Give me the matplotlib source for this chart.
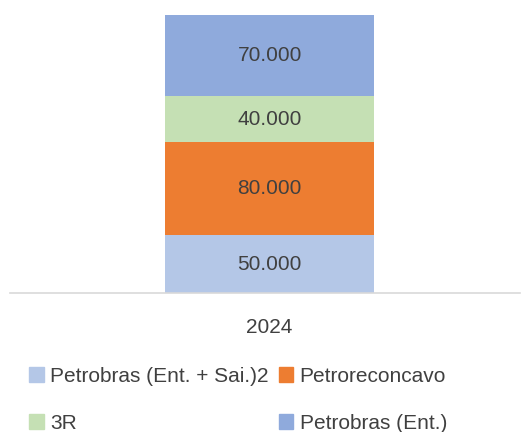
import matplotlib
matplotlib.use("Agg")
import matplotlib.pyplot as plt
from matplotlib.patches import Patch

categories = ["2024"]
series_names = ["Petrobras (Ent. + Sai.)2", "Petroreconcavo", "3R", "Petrobras (Ent.)"]
series_values = [[50], [80], [40], [70]]
value_labels = [["50.000"], ["80.000"], ["40.000"], ["70.000"]]
colors = ["#B4C7E7", "#ED7D31", "#C5E0B4", "#8FAADC"]

plt.rcParams['font.family'] = ['Liberation Sans', 'DejaVu Sans']
text_color = "#404040"

W, H = 521, 432
fig = plt.figure(figsize=(W / 100, H / 100), dpi=100)
ax = fig.add_axes([10 / W, (H - 293) / H, (520 - 10) / W, (293 - 15) / H])

x = list(range(len(categories)))
bottom = [0] * len(categories)
handles = []
for name, vals, labs, c in zip(series_names, series_values, value_labels, colors):
    bars = ax.bar(x, vals, width=0.41, bottom=bottom, color=c, label=name)
    for xi, v, b, lab in zip(x, vals, bottom, labs):
        ax.text(xi, b + v / 2, lab, ha="center", va="center", fontsize=15, color=text_color)
    bottom = [b + v for b, v in zip(bottom, vals)]
    handles.append(Patch(color=c, label=name))

ax.set_xlim(-0.509, 0.491)
ax.set_ylim(0, 240)
ax.set_yticks([])
ax.set_xticks(x)
ax.set_xticklabels(categories, fontsize=15, color=text_color)
ax.tick_params(axis="x", length=0, pad=18)
for s in ["top", "left", "right"]:
    ax.spines[s].set_visible(False)
ax.spines["bottom"].set_color("#D9D9D9")
ax.spines["bottom"].set_linewidth(1.2)

order = [0, 2, 1, 3]
leg = fig.legend([handles[i] for i in order], [series_names[i] for i in order],
                 ncol=2, loc="center", bbox_to_anchor=(0.457, (H - 400) / H),
                 frameon=False, fontsize=15, labelcolor=text_color,
                 handlelength=0.7, handleheight=0.7, handletextpad=0.3,
                 columnspacing=0.5, labelspacing=1.35)

fig.savefig("out.png", dpi=100)
